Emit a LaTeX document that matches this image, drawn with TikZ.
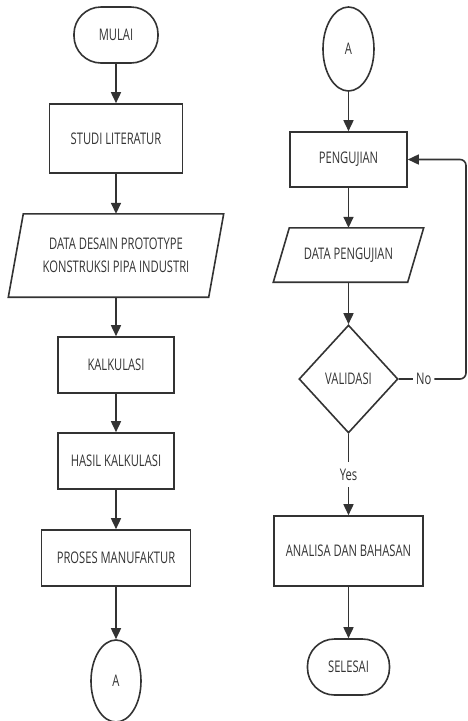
\documentclass[tikz,border=0pt]{standalone}
\usepackage{fontspec}
\setmainfont{Open Sans}[FakeStretch=0.7]
\usetikzlibrary{shapes.geometric,arrows.meta}
\definecolor{ln}{HTML}{333333}
\begin{document}
\begin{tikzpicture}[x=1pt,y=-1pt,
  every node/.style={font=\fontsize{16}{23}\selectfont, text=ln, inner sep=0pt},
  shp/.style={draw=ln, line width=1.6pt},
  proc/.style={shp, rectangle},
  term/.style={shp, rectangle, rounded corners=27pt},
  conn/.style={shp, ellipse},
  dec/.style={shp, diamond},
  plain/.style={rectangle, align=center},
  arr/.style={draw=ln, line width=1.6pt, -{Triangle[length=11pt,width=10pt]}},
  lbl/.style={fill=white, inner xsep=3pt, inner ysep=7pt}
]
\useasboundingbox (0,0) rectangle (468,721);

% left column
\node[term, minimum width=84pt, minimum height=56pt] (mulai) at (116,35) {MULAI};
\node[proc, minimum width=133pt, minimum height=69pt] (studi) at (116,138.5) {STUDI LITERATUR};
\node[plain, minimum width=200pt, minimum height=83pt] (data) at (116,255.5) {DATA DESAIN PROTOTYPE\\KONSTRUKSI PIPA INDUSTRI};
\draw[shp] ([xshift=7.5pt]data.north west) -- ([xshift=7.5pt]data.north east)
  -- ([xshift=-7.5pt]data.south east) -- ([xshift=-7.5pt]data.south west) -- cycle;
\node[proc, minimum width=116pt, minimum height=56pt] (kalk) at (116,365) {KALKULASI};
\node[proc, minimum width=116pt, minimum height=56pt] (hasil) at (116,461) {HASIL KALKULASI};
\node[proc, minimum width=149pt, minimum height=56pt] (proses) at (116,558) {PROSES MANUFAKTUR};
\node[conn, minimum width=50pt, minimum height=82pt] (a1) at (116,681) {A};

\draw[arr] (mulai) -- (studi);
\draw[arr] (studi) -- (data.north);
\draw[arr] (data.south) -- (kalk);
\draw[arr] (kalk) -- (hasil);
\draw[arr] (hasil) -- (proses);
\draw[arr] (proses) -- (a1);

% right column
\node[conn, minimum width=51pt, minimum height=84pt] (a2) at (348.5,49) {A};
\node[proc, minimum width=117pt, minimum height=55pt] (peng) at (348.5,159.5) {PENGUJIAN};
\node[plain, minimum width=134pt, minimum height=54pt] (dpeng) at (348.5,255) {DATA PENGUJIAN};
\draw[shp] ([xshift=8pt]dpeng.north west) -- ([xshift=8pt]dpeng.north east)
  -- ([xshift=-8pt]dpeng.south east) -- ([xshift=-8pt]dpeng.south west) -- cycle;
\node[dec, minimum width=99pt, minimum height=108pt] (valid) at (348.5,379) {VALIDASI};
\node[proc, minimum width=149pt, minimum height=70pt] (analisa) at (348.5,551) {ANALISA DAN BAHASAN};
\node[term, minimum width=82pt, minimum height=56pt] (selesai) at (348.5,667) {SELESAI};

\coordinate (fbr) at (466,379);
\coordinate (fbt) at (466,159.5);

\draw[arr] (a2) -- (peng);
\draw[arr] (peng) -- (dpeng.north);
\draw[arr] (dpeng.south) -- (valid.north);
\draw[arr, rounded corners=6pt] (valid.east) -- node[lbl, pos=0.37] {No} (fbr) -- (fbt) -- (peng.east);
\draw[arr] (valid.south) -- node[lbl, pos=0.5] {Yes} (analisa.north);
\draw[arr] (analisa) -- (selesai);
\end{tikzpicture}
\end{document}
